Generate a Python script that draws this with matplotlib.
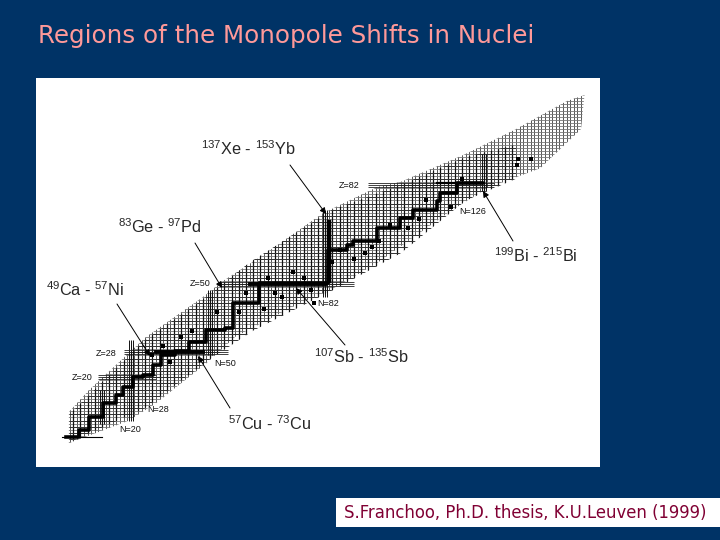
import matplotlib
matplotlib.use('Agg')
import matplotlib.pyplot as plt
from matplotlib.patches import Polygon, Rectangle
import numpy as np

plt.rcParams['font.family'] = ['Liberation Sans', 'DejaVu Sans']
plt.rcParams['mathtext.default'] = 'regular'

# band of known nuclei (N, Z)
upper_n = [10.8, 16.4, 32.2, 48, 53.6, 63.9, 81.4, 96.4, 103, 121, 135, 149, 154]
upper_z = [8.7, 15.8, 32.9, 45.8, 51, 58.7, 72.9, 81.3, 83, 92, 100, 109, 111]
lower_n = [10.8, 27.5, 35, 49, 57, 75, 83.3, 96.4, 116.7, 127, 141.7, 153]
lower_z = [-1.3, 6, 11.6, 24.5, 33, 43.9, 48, 56.8, 73.5, 81, 87.4, 100]
# darker inner part of the band
inner_up_n = [11, 32, 48, 61, 84, 103, 121, 135]
inner_up_z = [8, 32, 45, 57, 74, 82, 91, 95]
inner_lo_n = [11, 32, 49, 62, 84, 103, 121, 135]
inner_lo_z = [-1, 10, 25, 35, 48, 60, 77, 84]

# stable valley staircase
valley_n = [10, 13.6, 16.4, 20.3, 23.9, 25.8, 28.6, 31.4, 34.2, 36.4, 40.3, 44.2, 48.9, 54.2, 56.4, 63.5,
            82.8, 88, 89.7, 96.4, 102.8, 106.4, 113, 113.9, 118.6, 125.6]
valley_z = [0.6, 2.9, 7.1, 11.6, 14.2, 16.8, 20, 20.6, 23.9, 27, 28.4, 31.3, 35.2, 36, 43.9, 50.3,
            61, 62.6, 63.9, 68, 71.3, 73.9, 76.8, 79.4, 82.6, 82.6]
dots_n = [135.6, 139, 135.3, 84, 90, 93, 97, 100, 105, 110, 117, 66, 70, 73, 78, 65, 58, 52, 45, 39, 37, 34,
          79, 86, 95, 108, 120, 60, 42, 76, 68]
dots_z = [90.3, 90.3, 88.4, 57, 58, 60, 64, 69, 68, 77, 75, 52, 46, 54, 48, 42, 41, 41, 35, 25, 30, 27,
          44, 61, 62, 71, 84, 47, 33, 52, 47]

# magic numbers and how far their lines go
z_shells = [20, 28, 50, 82]
z_from = [19, 26, 53, 94]
z_to = [35, 55, 90, 129]
n_shells = [20, 28, 50, 82, 126]
n_from = [5, 6, 27, 46, 80]
n_to = [16, 32, 48, 74, 92]

n_grid = np.arange(2, 158)
z_grid = np.arange(-8, 116)

# labels, arrows and small tags, in picture pixels
labels = ['$^{137}$Xe - $^{153}$Yb', '$^{83}$Ge - $^{97}$Pd', '$^{49}$Ca - $^{57}$Ni',
          '$^{57}$Cu - $^{73}$Cu', '$^{107}$Sb - $^{135}$Sb', '$^{199}$Bi - $^{215}$Bi']
label_x = [248, 160, 85, 270, 361, 536]
label_y = [149, 227, 290, 424, 357, 256]
arrow_x0 = [290, 195, 117, 230, 345, 513]
arrow_y0 = [165, 243, 304, 408, 345, 241]
arrow_x1 = [326, 222, 150, 198, 296, 483]
arrow_y1 = [214, 288, 356, 356, 288, 191]
tags = ['Z=82', 'N=126', 'Z=50', 'N=82', 'Z=28', 'Z=20', 'N=50', 'N=28', 'N=20']
tag_x = [349, 473, 200, 328, 106, 82, 225, 158, 130]
tag_y = [185, 212, 284, 303, 353, 377, 364, 409, 429]

fig = plt.figure(figsize=(7.2, 5.4), dpi=100, facecolor='#003366')

# white chart panel, limits set so the scale fits the pixel positions
ax = fig.add_axes([36 / 720, 1 - 467 / 540, 564 / 720, 389 / 540])
ax.set_xlim(1.67, 158.3)
ax.set_ylim(-9, 116.5)
ax.axis('off')
ax.add_patch(Rectangle((0, 0), 1, 1, transform=ax.transAxes, fc='white', ec='none', zorder=0))

band = Polygon(np.column_stack([upper_n + lower_n[::-1], upper_z + lower_z[::-1]]), fc='none', ec='none')
inner = Polygon(np.column_stack([inner_up_n + inner_lo_n[::-1], inner_up_z + inner_lo_z[::-1]]), fc='none', ec='none')
ax.add_patch(band)
ax.add_patch(inner)

v1 = ax.vlines(n_grid, -9, 116, color='#555555', lw=0.7, zorder=1)
h1 = ax.hlines(z_grid, 1, 158, color='#777777', lw=0.6, zorder=1)
v1.set_clip_path(band)
h1.set_clip_path(band)
v2 = ax.vlines(n_grid[::2], -9, 116, color='#111111', lw=0.9, zorder=2)
h2 = ax.hlines(z_grid[::2], 1, 158, color='#333333', lw=0.7, zorder=2)
v2.set_clip_path(inner)
h2.set_clip_path(inner)

# shell closures, each one drawn as a small bundle of lines
for off in [-0.6, 0, 0.6]:
    ax.hlines(np.array(z_shells) + off, z_from, z_to, color='#222222', lw=0.6, zorder=3)
    ax.vlines(np.array(n_shells) + off, n_from, n_to, color='#111111', lw=0.7, zorder=3)

ax.step(valley_n, valley_z, where='post', color='black', lw=2.6, zorder=4)
ax.plot([83, 83], [51, 70], color='black', lw=3.2, zorder=4)
ax.plot([61, 82], [50, 50], color='black', lw=2.8, zorder=4)
ax.plot([35, 48], [28, 28], color='black', lw=2.8, zorder=4)
ax.plot([113, 126], [82.5, 82.5], color='black', lw=1.6, zorder=4)
ax.plot([9, 20], [0.6, 0.6], color='black', lw=0.8, zorder=4)
ax.scatter(dots_n, dots_z, marker='s', s=8, color='black', lw=0, zorder=4)

# overlay in pixels for the text and the arrows
over = fig.add_axes([0, 0, 1, 1])
over.set_xlim(0, 720)
over.set_ylim(540, 0)
over.axis('off')
over.patch.set_alpha(0)

for txt, x, y in zip(labels, label_x, label_y):
    over.text(x, y, txt, ha='center', va='center', fontsize=11.7, color='#262626')
for x0, y0, x1, y1 in zip(arrow_x0, arrow_y0, arrow_x1, arrow_y1):
    over.annotate('', xy=(x1, y1), xytext=(x0, y0),
                  arrowprops=dict(arrowstyle='-|>', color='black', lw=0.7, mutation_scale=9, shrinkA=0, shrinkB=0))
for txt, x, y in zip(tags, tag_x, tag_y):
    over.text(x, y, txt, ha='center', va='center', fontsize=6.5, color='#111111')

over.text(38, 36, 'Regions of the Monopole Shifts in Nuclei', ha='left', va='center',
          fontsize=17.7, color='#ff9999', family='DejaVu Sans')
over.add_patch(Rectangle((336, 498), 384, 29, fc='white', ec='none'))
over.text(344, 513, 'S.Franchoo, Ph.D. thesis, K.U.Leuven (1999)', ha='left', va='center',
          fontsize=11.9, color='#800033', family='DejaVu Sans')

fig.savefig('out.png', dpi=100, facecolor=fig.get_facecolor())
